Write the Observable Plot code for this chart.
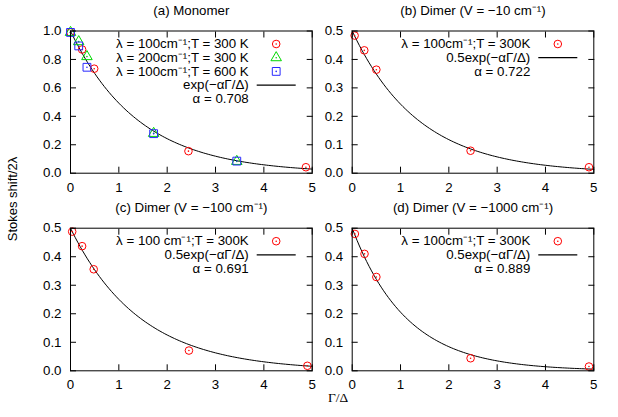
<!DOCTYPE html>
<html><head><meta charset="utf-8">
<script src="https://cdn.jsdelivr.net/npm/d3@7"></script>
<script src="https://cdn.jsdelivr.net/npm/@observablehq/plot@0.6"></script>
<style>
body{margin:0;background:#fff;}
#chart{position:relative;width:618px;height:417px;font-family:"Liberation Sans",Arial,sans-serif;color:#000;}
#chart svg{position:absolute;overflow:visible;background:transparent;}
.lab{position:absolute;white-space:nowrap;transform:translate(-50%,-50%);}
</style></head><body><div id="chart"></div>
<script>
// ---- data ----
const xTicks = [0, 1, 2, 3, 4, 5];
const yTicksMono = [0, 0.2, 0.4, 0.6, 0.8, 1.0];
const yTicksDimer = [0, 0.1, 0.2, 0.3, 0.4, 0.5];

// (a) Monomer
const monoRedX   = [0, 0.24, 0.49, 2.44, 4.87];
const monoRedY   = [0.99, 0.87, 0.735, 0.155, 0.042];
const monoGreenX = [0, 0.17, 0.34, 1.72, 3.44];
const monoGreenY = [0.99, 0.925, 0.82, 0.28, 0.083];
const monoBlueX  = [0, 0.17, 0.34, 1.72, 3.44];
const monoBlueY  = [0.99, 0.895, 0.745, 0.278, 0.085];
const monoAlpha = 0.708;

// (b) Dimer V = -10
const dimBX = [0.05, 0.25, 0.5, 2.45, 4.9];
const dimBY = [0.484, 0.432, 0.364, 0.079, 0.021];
const dimBAlpha = 0.722;
// (c) Dimer V = -100
const dimCX = [0.035, 0.24, 0.48, 2.45, 4.9];
const dimCY = [0.488, 0.437, 0.356, 0.071, 0.0175];
const dimCAlpha = 0.691;
// (d) Dimer V = -1000
const dimDX = [0.055, 0.255, 0.5, 2.45, 4.9];
const dimDY = [0.48, 0.41, 0.329, 0.044, 0.015];
const dimDAlpha = 0.889;

const titles = ["(a) Monomer", "(b) Dimer (V = \u221210 cm\u207B\u00B9)", "(c) Dimer (V = \u2212100 cm\u207B\u00B9)", "(d) Dimer (V = \u22121000 cm\u207B\u00B9)"];
const monoLegend = ["\u03BB = 100cm\u207B\u00B9;T = 300 K", "\u03BB = 200cm\u207B\u00B9;T = 300 K", "\u03BB = 100cm\u207B\u00B9;T = 600 K"];
const dimLegend = ["\u03BB = 100cm\u207B\u00B9;T = 300K", "\u03BB = 100 cm\u207B\u00B9;T = 300K", "\u03BB = 100cm\u207B\u00B9;T = 300K"];
const yLabel = "Stokes shift/2\u03BB";
const xLabel = "\u0393/\u0394";

const RED = "#ff0000", GREEN = "#00d800", BLUE = "#2828ff";
const FONT = 13.3;

const zip = (xs, ys) => xs.map((x, i) => ({x, y: ys[i]}));
const curve = (amp, alpha) => d3.range(0, 5.0001, 0.05).map(x => ({x, y: amp * Math.exp(-alpha * x)}));
const lineSym = {draw(ctx) { ctx.moveTo(-19.5, 0); ctx.lineTo(19.5, 0); }};

function panel({title, series, amp, alpha, yDomain, yTicks, legendRows, fitText, alphaText, box}) {
  const [left, top, width, height, mt, mr, mb, ml] = box;
  const marks = [];
  marks.push(Plot.line(curve(amp, alpha), {x: "x", y: "y", stroke: "black", strokeWidth: 1}));
  for (const s of series) {
    marks.push(Plot.dot(s.data, {x: "x", y: "y", symbol: s.symbol, r: s.r, stroke: s.color, strokeWidth: 1, fill: "none"}));
    marks.push(Plot.dot(s.data, {x: "x", y: "y", r: 0.8, fill: s.color}));
  }
  // axes with inward ticks, mirrored on top and right
  marks.push(Plot.axisX({anchor: "bottom", ticks: xTicks, tickSize: -6, tickPadding: 15, tickFormat: d3.format("d"), fontSize: FONT, label: null}));
  marks.push(Plot.axisX({anchor: "top", ticks: xTicks, tickSize: -6, tickFormat: () => "", label: null}));
  marks.push(Plot.axisY({anchor: "left", ticks: yTicks, tickSize: -6, tickPadding: 15, tickFormat: d3.format(".1f"), fontSize: FONT, label: null}));
  marks.push(Plot.axisY({anchor: "right", ticks: yTicks, tickSize: -6, tickFormat: () => "", label: null}));
  marks.push(Plot.frame({stroke: "black", strokeWidth: 1}));
  // title
  marks.push(Plot.text([title], {frameAnchor: "top", dy: -20.5, lineAnchor: "middle", fontSize: FONT, text: d => d}));
  // legend
  const rowH = 13.7, dy0 = 13;
  legendRows.forEach((row, i) => {
    marks.push(Plot.text([row.label], {text: d => d, frameAnchor: "top-right", textAnchor: "end", lineAnchor: "middle", dx: -63.5, dy: dy0 + i * rowH, fontSize: FONT}));
    marks.push(Plot.dot([0], {frameAnchor: "top-right", dx: -36, dy: dy0 + i * rowH, symbol: row.symbol, r: row.r, stroke: row.color, fill: "none", strokeWidth: 1}));
    marks.push(Plot.dot([0], {frameAnchor: "top-right", dx: -36, dy: dy0 + i * rowH, r: 0.8, fill: row.color}));
  });
  const k = legendRows.length;
  marks.push(Plot.text([fitText], {text: d => d, frameAnchor: "top-right", textAnchor: "end", lineAnchor: "middle", dx: -63.5, dy: dy0 + k * rowH, fontSize: FONT}));
  marks.push(Plot.dot([0], {frameAnchor: "top-right", dx: -36, dy: dy0 + k * rowH, symbol: lineSym, stroke: "black", fill: "none", strokeWidth: 1.2}));
  marks.push(Plot.text([alphaText], {text: d => d, frameAnchor: "top-right", textAnchor: "end", lineAnchor: "middle", dx: -63.5, dy: dy0 + (k + 1) * rowH, fontSize: FONT}));

  const svg = Plot.plot({
    width, height, marginTop: mt, marginRight: mr, marginBottom: mb, marginLeft: ml,
    style: {fontFamily: '"Liberation Sans", Arial, sans-serif', fontSize: FONT + "px", background: "transparent", overflow: "visible", color: "black"},
    x: {domain: [0, 5], label: null},
    y: {domain: yDomain, label: null},
    marks
  });
  svg.style.left = left + "px";
  svg.style.top = top + "px";
  document.getElementById("chart").appendChild(svg);
}

const boxTL = [0, 0, 330, 200, 30.5, 18.3, 27.3, 70];
const boxTR = [330, 0, 288, 200, 30.5, 24.7, 27.3, 21.7];
const boxBL = [0, 195, 330, 222, 32.7, 18.3, 46.7, 70];
const boxBR = [330, 195, 288, 222, 32.7, 24.7, 46.7, 21.7];

panel({
  title: titles[0],
  series: [
    {data: zip(monoRedX, monoRedY), symbol: "circle", r: 3.8, color: RED},
    {data: zip(monoGreenX, monoGreenY), symbol: "triangle", r: 3.9, color: GREEN},
    {data: zip(monoBlueX, monoBlueY), symbol: "square", r: 4.4, color: BLUE}
  ],
  amp: 1, alpha: monoAlpha, yDomain: [0, 1], yTicks: yTicksMono,
  legendRows: [
    {label: monoLegend[0], symbol: "circle", r: 3.8, color: RED},
    {label: monoLegend[1], symbol: "triangle", r: 3.9, color: GREEN},
    {label: monoLegend[2], symbol: "square", r: 4.4, color: BLUE}
  ],
  fitText: "exp(\u2212\u03B1\u0393/\u0394)", alphaText: "\u03B1 = " + monoAlpha.toFixed(3), box: boxTL
});
const dims = [
  [dimBX, dimBY, dimBAlpha, titles[1], dimLegend[0], boxTR],
  [dimCX, dimCY, dimCAlpha, titles[2], dimLegend[1], boxBL],
  [dimDX, dimDY, dimDAlpha, titles[3], dimLegend[2], boxBR]
];
for (const [xs, ys, a, t, lg, box] of dims) {
  panel({
    title: t,
    series: [{data: zip(xs, ys), symbol: "circle", r: 3.8, color: RED}],
    amp: 0.5, alpha: a, yDomain: [0, 0.5], yTicks: yTicksDimer,
    legendRows: [{label: lg, symbol: "circle", r: 3.8, color: RED}],
    fitText: "0.5exp(\u2212\u03B1\u0393/\u0394)", alphaText: "\u03B1 = " + a.toFixed(3), box
  });
}

const chart = document.getElementById("chart");
const yl = document.createElement("div");
yl.className = "lab"; yl.textContent = yLabel;
yl.style.cssText = "left:12px;top:199px;font-size:13px;transform:translate(-50%,-50%) rotate(-90deg);";
chart.appendChild(yl);
const xl = document.createElement("div");
xl.className = "lab"; xl.textContent = xLabel;
xl.style.cssText += "left:338px;top:398px;font-size:13.5px;font-family:'Liberation Serif','Times New Roman',serif;";
chart.appendChild(xl);
</script></body></html>
